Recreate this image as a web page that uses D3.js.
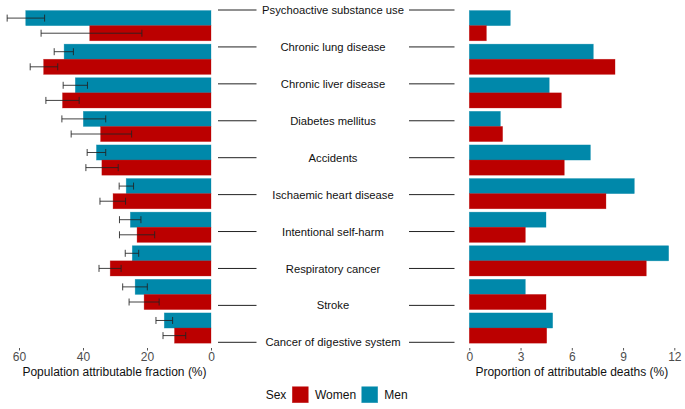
<!DOCTYPE html>
<html>
<head>
<meta charset="utf-8">
<script src="https://cdn.jsdelivr.net/npm/d3@7"></script>
<style>
  html, body { margin: 0; padding: 0; background: #fff; }
  svg { display: block; font-family: "Liberation Sans", Arial, sans-serif; }
</style>
</head>
<body>
<svg id="chart" width="685" height="409"></svg>
<script>
const categories = [
  "Psychoactive substance use",
  "Chronic lung disease",
  "Chronic liver disease",
  "Diabetes mellitus",
  "Accidents",
  "Ischaemic heart disease",
  "Intentional self-harm",
  "Respiratory cancer",
  "Stroke",
  "Cancer of digestive system"
];
const sexes = ["Men", "Women"];

// Population attributable fraction (%) with 95% CI
const pafMen      = [57.9, 45.9, 42.4, 39.9, 35.8, 26.5, 25.2, 24.6, 23.7, 14.6];
const pafMenLo    = [52.0, 43.0, 38.6, 32.9, 32.9, 24.2, 21.9, 22.6, 19.9, 12.0];
const pafMenHi    = [63.7, 49.0, 46.2, 46.6, 38.7, 28.7, 28.6, 26.8, 27.6, 17.2];
const pafWomen    = [37.9, 52.3, 46.4, 34.5, 34.1, 30.6, 23.1, 31.5, 20.9, 11.4];
const pafWomenLo  = [21.6, 47.9, 41.2, 24.8, 29.0, 26.7, 17.6, 28.1, 16.2, 7.9];
const pafWomenHi  = [53.1, 56.5, 51.6, 43.7, 39.1, 34.7, 28.6, 35.0, 25.6, 15.0];

// Proportion of attributable deaths (%)
const propMen   = [2.40, 7.26, 4.68, 1.82, 7.09, 9.66, 4.49, 11.67, 3.28, 4.88];
const propWomen = [1.00, 8.53, 5.39, 1.95, 5.56, 8.00, 3.28, 10.36, 4.49, 4.53];

const leftTicks = [0, 20, 40, 60];
const rightTicks = [0, 3, 6, 9, 12];

const colors = { Women: "#BB0000", Men: "#0088AA" };

const svg = d3.select("#chart");

const rows = [];
categories.forEach((c, i) => {
  rows.push({ cat: c, sex: "Men", paf: pafMen[i], lo: pafMenLo[i], hi: pafMenHi[i], prop: propMen[i] });
  rows.push({ cat: c, sex: "Women", paf: pafWomen[i], lo: pafWomenLo[i], hi: pafWomenHi[i], prop: propWomen[i] });
});

// Shared vertical scales
const y = d3.scaleBand().domain(categories).range([5.5, 348.2]).paddingInner(0.1).paddingOuter(0.15);
const ySex = d3.scaleBand().domain(sexes).range([0, y.bandwidth()]);

// Left panel
const xL = d3.scaleLinear().domain([0, 60]).range([211, 19]);
const left = svg.append("g");
left.selectAll("rect").data(rows).join("rect")
  .attr("x", d => xL(d.paf))
  .attr("y", d => y(d.cat) + ySex(d.sex))
  .attr("width", d => xL(0) - xL(d.paf))
  .attr("height", ySex.bandwidth())
  .attr("fill", d => colors[d.sex])
  .attr("stroke", d => colors[d.sex])
  .attr("stroke-opacity", 0.5)
  .attr("stroke-width", 0.6);

const eb = left.selectAll("g.eb").data(rows).join("g").attr("class", "eb")
  .attr("transform", d => `translate(0,${y(d.cat) + ySex(d.sex) + ySex.bandwidth() / 2})`)
  .attr("stroke", "#222").attr("stroke-opacity", 0.85).attr("stroke-width", 1);
eb.append("line").attr("x1", d => xL(d.lo)).attr("x2", d => xL(d.hi)).attr("y1", 0).attr("y2", 0);
eb.append("line").attr("x1", d => xL(d.lo)).attr("x2", d => xL(d.lo)).attr("y1", -3.5).attr("y2", 3.5);
eb.append("line").attr("x1", d => xL(d.hi)).attr("x2", d => xL(d.hi)).attr("y1", -3.5).attr("y2", 3.5);

const axL = left.append("g").attr("transform", "translate(0,348)")
  .call(d3.axisBottom(xL).tickValues(leftTicks).tickSize(2.5).tickPadding(2).tickFormat(d3.format("d")));
axL.select(".domain").remove();
axL.selectAll("line").attr("stroke", "#555");
axL.selectAll("text").attr("fill", "#4D4D4D").attr("font-size", 12).attr("font-family", "Liberation Sans, Arial, sans-serif");
left.append("text").attr("x", (xL(0) + xL(60)) / 2 - 0.5).attr("y", 376)
  .attr("text-anchor", "middle").attr("font-size", 12).attr("fill", "#111")
  .text("Population attributable fraction (%)");

// Middle labels
const yM = d3.scalePoint().domain(categories).range([10, 342.3]);
const mid = svg.append("g");
const mg = mid.selectAll("g").data(categories).join("g")
  .attr("transform", d => `translate(0,${yM(d)})`);
mg.append("line").attr("x1", 218).attr("x2", 256.5).attr("y1", 0).attr("y2", 0).attr("stroke", "#222").attr("stroke-width", 1);
mg.append("line").attr("x1", 409).attr("x2", 454.5).attr("y1", 0).attr("y2", 0).attr("stroke", "#222").attr("stroke-width", 1);
mg.append("text").attr("x", 333).attr("y", 4.1).attr("text-anchor", "middle")
  .attr("font-size", 11.25).attr("fill", "#111").text(d => d);

// Right panel
const xR = d3.scaleLinear().domain([0, 12]).range([469.3, 674.3]);
const right = svg.append("g");
right.selectAll("rect").data(rows).join("rect")
  .attr("x", xR(0))
  .attr("y", d => y(d.cat) + ySex(d.sex))
  .attr("width", d => xR(d.prop) - xR(0))
  .attr("height", ySex.bandwidth())
  .attr("fill", d => colors[d.sex])
  .attr("stroke", d => colors[d.sex])
  .attr("stroke-opacity", 0.5)
  .attr("stroke-width", 0.6);

const axR = right.append("g").attr("transform", "translate(0,348)")
  .call(d3.axisBottom(xR).tickValues(rightTicks).tickSize(2.5).tickPadding(2).tickFormat(d3.format("d")));
axR.select(".domain").remove();
axR.selectAll("line").attr("stroke", "#555");
axR.selectAll("text").attr("fill", "#4D4D4D").attr("font-size", 12).attr("font-family", "Liberation Sans, Arial, sans-serif");
right.append("text").attr("x", (xR(0) + xR(12)) / 2).attr("y", 376)
  .attr("text-anchor", "middle").attr("font-size", 12).attr("fill", "#111")
  .text("Proportion of attributable deaths (%)");

// Legend
const leg = svg.append("g");
leg.append("text").attr("x", 265.7).attr("y", 399).attr("font-size", 12).attr("fill", "#111").text("Sex");
const legItems = [
  { key: "Women", sx: 292.3, tx: 315 },
  { key: "Men", sx: 361.7, tx: 384.3 }
];
legItems.forEach(it => {
  leg.append("rect").attr("x", it.sx).attr("y", 386.7).attr("width", 16).attr("height", 16)
    .attr("fill", colors[it.key]).attr("stroke", colors[it.key]).attr("stroke-opacity", 0.5).attr("stroke-width", 0.6);
  leg.append("text").attr("x", it.tx).attr("y", 399).attr("font-size", 12).attr("fill", "#111").text(it.key);
});
</script>
</body>
</html>
